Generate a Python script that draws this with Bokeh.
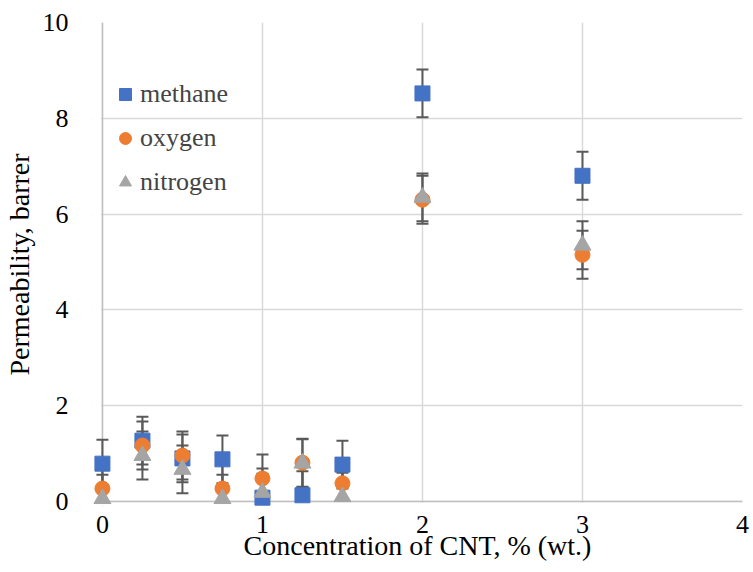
from bokeh.plotting import figure
from bokeh.models import Range1d, FixedTicker, BoxAnnotation, Span
from bokeh.embed import file_html
from bokeh.resources import INLINE

conc = [0, 0.25, 0.5, 0.75, 1.0, 1.25, 1.5, 2.0, 3.0]
methane = [0.79, 1.27, 0.90, 0.88, 0.08, 0.13, 0.77, 8.52, 6.80]
oxygen = [0.27, 1.17, 0.96, 0.27, 0.48, 0.81, 0.38, 6.30, 5.15]
nitrogen = [0.06, 0.96, 0.67, 0.06, 0.19, 0.80, 0.10, 6.35, 5.35]
err = 0.5
x_ticks = [0, 1, 2, 3, 4]
y_ticks = [0, 2, 4, 6, 8, 10]

series = [
    ("methane", methane, "#4472C4", "square", 15),
    ("oxygen", oxygen, "#ED7D31", "circle", 15),
    ("nitrogen", nitrogen, "#A5A5A5", "triangle", 17),
]

FONT = "Liberation Serif"
QFONT = "'Liberation Serif'"
AXIS_GREY = "#BFBFBF"
GRID_GREY = "#D9D9D9"
ERR_GREY = "#595959"

# small strips left of x=0 and below y=0 so markers on the axes are not cut off
x_pad = 10 / 161.25
y_pad = 5 / 47.9

p = figure(width=753, height=572, output_backend="svg", toolbar_location=None,
           x_range=Range1d(-x_pad, 4), y_range=Range1d(-y_pad, 10),
           min_border_left=87, min_border_right=11, min_border_top=22, min_border_bottom=66)
p.outline_line_color = None

p.xgrid.ticker = FixedTicker(ticks=x_ticks)
p.ygrid.ticker = FixedTicker(ticks=y_ticks)
p.grid.grid_line_color = GRID_GREY
p.grid.grid_line_width = 1.5

p.add_layout(Span(location=0, dimension="height", line_color=AXIS_GREY, line_width=1.5, level="underlay"))
p.add_layout(Span(location=0, dimension="width", line_color=AXIS_GREY, line_width=1.5, level="underlay"))
p.add_layout(BoxAnnotation(right=-0.008, fill_color="white", fill_alpha=1, line_color=None, level="underlay"))
p.add_layout(BoxAnnotation(top=-0.025, fill_color="white", fill_alpha=1, line_color=None, level="underlay"))

# error bars (fixed +/- err); Excel clips the part below the axis and drops that cap
for name, vals, color, marker, size in series:
    lo = [max(v - err, 0) for v in vals]
    hi = [v + err for v in vals]
    p.segment(x0=conc, y0=lo, x1=conc, y1=hi, line_color=ERR_GREY, line_width=2)
    p.scatter(conc, hi, marker="dash", size=12, line_color=ERR_GREY, line_width=2)
    lo_x = [c for c, v in zip(conc, vals) if v - err >= 0]
    lo_y = [v - err for v in vals if v - err >= 0]
    p.scatter(lo_x, lo_y, marker="dash", size=12, line_color=ERR_GREY, line_width=2)

for name, vals, color, marker, size in series:
    p.scatter(conc, vals, marker=marker, size=size, fill_color=color, line_color=color,
              legend_label=name)

p.xaxis.ticker = FixedTicker(ticks=x_ticks)
p.yaxis.ticker = FixedTicker(ticks=y_ticks)

for ax in (p.xaxis, p.yaxis):
    ax.axis_line_color = None
    ax.major_tick_line_color = None
    ax.minor_tick_line_color = None
    ax.major_label_text_font = QFONT
    ax.major_label_text_font_size = "26px"
    ax.major_label_text_color = "#000000"
    ax.axis_label_text_font = FONT
    ax.axis_label_text_font_size = "28px"
    ax.axis_label_text_font_style = "normal"
    ax.axis_label_text_color = "#000000"

p.xaxis.axis_label = "Concentration of CNT, % (wt.)"
p.yaxis.axis_label = "Permeability, barrer"
p.xaxis.major_label_standoff = 3
p.xaxis.axis_label_standoff = -6
p.yaxis.major_label_standoff = 18
p.yaxis.axis_label_standoff = 5

p.legend.location = (18, 308)
p.legend.label_text_font = "Liberation Serif, serif"
p.legend.label_text_font_size = "26px"
p.legend.background_fill_alpha = 0
p.legend.border_line_color = None
p.legend.spacing = 12
p.legend.glyph_width = 30
p.legend.glyph_height = 32
p.legend.label_standoff = 0
p.legend.margin = 0
p.legend.padding = 0

open("out.html", "w").write(file_html(p, INLINE))
